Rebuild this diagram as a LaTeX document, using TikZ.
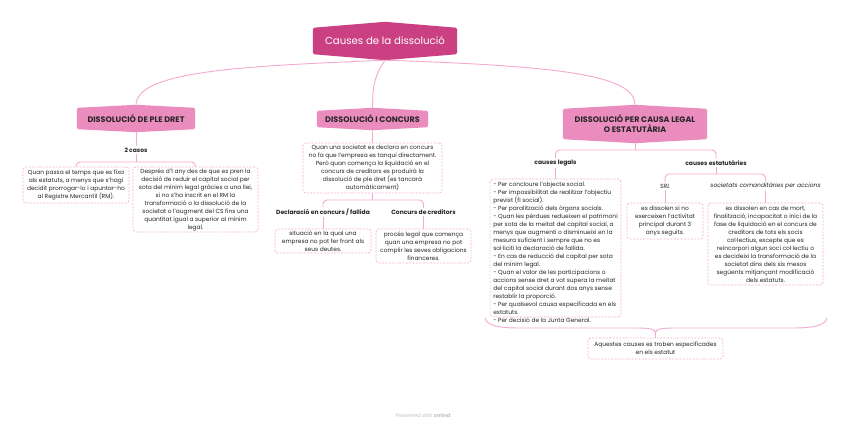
\documentclass[tikz,border=0pt]{standalone}
\usepackage{fontspec}
\setmainfont{Poppins}
\usetikzlibrary{positioning, calc, backgrounds}

\definecolor{rootpink}{HTML}{CB3F83}
\definecolor{topicpink}{HTML}{EA8CBD}
\definecolor{linkpink}{HTML}{F7A8D0}
\definecolor{dashpink}{HTML}{F5B3D5}
\definecolor{inkdark}{HTML}{262626}

\tikzset{
    rootnode/.style={align=center, inner sep=0pt, text=white, font=\fontsize{10.2}{12}\selectfont},
    topicnode/.style={align=center, inner sep=0pt, text=inkdark, font=\bfseries\fontsize{8}{10}\selectfont},
    notebox/.style={draw=dashpink, line width=0.7pt, dash pattern=on 2pt off 1.4pt, rounded corners=3pt,
        fill=white, align=center, inner sep=0pt, text=inkdark, font=\fontsize{5.9}{8}\selectfont},
    notetext/.style={align=left, inner sep=3pt, text=inkdark, font=\fontsize{5.9}{8}\selectfont},
    dashline/.style={draw=dashpink, line width=0.7pt, dash pattern=on 2pt off 1.4pt, rounded corners=3pt},
    tag/.style={inner sep=1.5pt, text=inkdark, font=\bfseries\fontsize{6}{7}\selectfont},
    itag/.style={inner sep=1.5pt, text=inkdark, font=\itshape\fontsize{6}{7}\selectfont},
    link/.style={draw=linkpink, line width=0.9pt},
    fork/.style={link, rounded corners=4pt}
}

% fill of a box with a small peak at top and bottom
\newcommand\peakfill[3]{%
    \fill[#2, rounded corners=1.5pt] ([yshift=-#3pt]#1.north west) -- (#1.north) -- ([yshift=-#3pt]#1.north east)
        -- ([yshift=#3pt]#1.south east) -- (#1.south) -- ([yshift=#3pt]#1.south west) -- cycle;}

\begin{document}
\begin{tikzpicture}[x=1pt, y=-1pt]
    \useasboundingbox (0,0) rectangle (848,428);

    % root and main topics
    \node[rootnode, minimum width=144pt, minimum height=38pt] (root) at (385,41) {Causes de la dissolució};
    \node[topicnode, minimum width=118pt, minimum height=27pt] (pledret) at (136,118.5) {DISSOLUCIÓ DE PLE DRET};
    \node[topicnode, minimum width=111pt, minimum height=22pt] (concurs) at (372.5,119) {DISSOLUCIÓ I CONCURS};
    \node[topicnode, minimum width=144pt, minimum height=38pt] (causa) at (635,124) {DISSOLUCIÓ PER CAUSA LEGAL\\O ESTATUTÀRIA};

    \begin{scope}[on background layer]
        \fill[white] (0,0) rectangle (848,428);
        \peakfill{root}{rootpink}{6}
        \peakfill{pledret}{topicpink}{3}
        \peakfill{concurs}{topicpink}{3}
        \peakfill{causa}{topicpink}{4}
    \end{scope}

    \draw[link] (root.south) .. controls (250,66) and (137,70) .. (pledret.north);
    \draw[link] (root.south) .. controls (375,75) and (372.5,85) .. (concurs.north);
    \draw[link] (root.south) .. controls (560,66) and (635,75) .. (causa.north);

    % dissolucio de ple dret
    \node[tag] (casos) at (136,150) {2 casos};
    \node[notebox, minimum width=106pt, minimum height=36pt] (termini) at (76,185)
        {Quan passa el temps que es fixa\\als estatuts, a menys que s'hagi\\decidit prorrogar-lo i apuntar-ho\\al Registre Mercantil (RM).};
    \node[notebox, minimum width=125pt, minimum height=65pt] (reduccio) at (195.5,199.5)
        {Després d'1 any des de que es pren la\\decisió de reduir el capital social per\\sota del mínim legal gràcies a una llei,\\si no s'ha inscrit en el RM la\\transformació o la dissolució de la\\societat o l'augment del CS fins una\\quantitat igual a superior al mínim\\legal.};
    \coordinate (j1) at (136,162);
    \draw[link] (pledret.south) -- (casos);
    \draw[link] (casos) -- (j1);
    \draw[fork] (termini.north) |- (j1) -| (reduccio.north);

    % dissolucio i concurs
    \node[notebox, minimum width=139pt, minimum height=50pt] (quanconc) at (372.5,168)
        {Quan una societat es declara en concurs\\no fa que l'empresa es tanqui directament.\\Però quan comença la liquidació en el\\concurs de creditors es produirà la\\dissolució de ple dret (es tancarà\\automàticament)};
    \node[tag] (fallida) at (323,212) {Declaració en concurs / fallida};
    \node[tag] (creditors) at (423.5,212) {Concurs de creditors};
    \node[notebox, minimum width=96pt, minimum height=24pt] (deutes) at (323,241)
        {situació en la qual una\\empresa no pot fer front als\\seus deutes.};
    \node[notebox, minimum width=95pt, minimum height=34pt] (proces) at (423.5,246)
        {procés legal que comença\\quan una empresa no pot\\complir les seves obligacions\\financeres.};
    \coordinate (j2) at (372.5,200);
    \draw[link] (concurs.south) -- (quanconc.north);
    \draw[link] (quanconc.south) -- (j2);
    \draw[fork] (fallida.north) |- (j2) -| (creditors.north);
    \draw[link] (fallida) -- (deutes.north);
    \draw[link] (creditors) -- (proces.north);

    % dissolucio per causa legal o estatutaria
    \node[tag] (legals) at (555.5,163) {causes legals};
    \node[tag] (estatut) at (716,163) {causes estatutàries};
    \node[notetext, anchor=north] (legaltxt) at (555.5,179)
        {- Per concloure l'objecte social.\\- Per impossibilitat de realitzar l'objectiu\\previst (fi social).\\- Per paralització dels òrgans socials.\\- Quan les pèrdues redueixen el patrimoni\\per sota de la meitat del capital social, a\\menys que augmenti o disminueixi en la\\mesura suficient i sempre que no es\\sol·liciti la declaració de fallida.\\- En cas de reducció del capital per sota\\del mínim legal.\\- Quan el valor de les participacions o\\accions sense dret a vot supera la meitat\\del capital social durant dos anys sense\\restablir la proporció.\\- Per qualsevol causa especificada en els\\estatuts.\\- Per decisió de la Junta General.};
    \draw[dashline] (legaltxt.north west) rectangle ([yshift=9pt]legaltxt.south east);
    \node[itag] (srl) at (665,186) {SRL};
    \node[itag] (comand) at (765.5,186) {societats comanditàries per accions};
    \node[notebox, minimum width=76pt, minimum height=36pt] (srlbox) at (665,221)
        {es dissolen si no\\exerceixen l'activitat\\principal durant 3\\anys seguits.};
    \node[notebox, minimum width=115pt, minimum height=82pt] (comandbox) at (765.5,244)
        {es dissolen en cas de mort,\\finalització, incapacitat o inici de la\\fase de liquidació en el concurs de\\creditors de tots els socis\\col·lectius, excepte que es\\reincorpori algun soci col·lectiu o\\es decideixi la transformació de la\\societat dins dels sis mesos\\següents mitjançant modificació\\dels estatuts.};
    \coordinate (j3) at (635,150);
    \coordinate (j4) at (716,174);
    \draw[link] (causa.south) -- (j3);
    \draw[fork] (legals.north) |- (j3) -| (estatut.north);
    \draw[link] (legals) -- (legaltxt.north);
    \draw[link] (estatut) -- (j4);
    \draw[fork] (srl.north) |- (j4) -| (comand.north);
    \draw[link] (srl) -- (srlbox.north);
    \draw[link] (comand) -- (comandbox.north);

    % summary brace
    \node[notebox, minimum width=135pt, minimum height=21pt] (resum) at (655.5,348.5)
        {Aquestes causes es troben especificades\\en els estatut};
    \coordinate (bl) at (485,318);
    \coordinate (br) at (827,318);
    \coordinate (btip) at (655.5,333);
    \draw[link] (bl) .. controls (487,326) and (500,328) .. (520,328) -- (635,328)
        .. controls (650,328) and (655.5,329) .. (btip)
        .. controls (655.5,329) and (661,328) .. (676,328) -- (792,328)
        .. controls (812,328) and (825,326) .. (br);
    \draw[link] (btip) -- (resum.north);

    \node[text=black!25, font=\fontsize{5}{6}\selectfont] (credit) at (423,416) {Presented with \textbf{xmind}};
\end{tikzpicture}
\end{document}
